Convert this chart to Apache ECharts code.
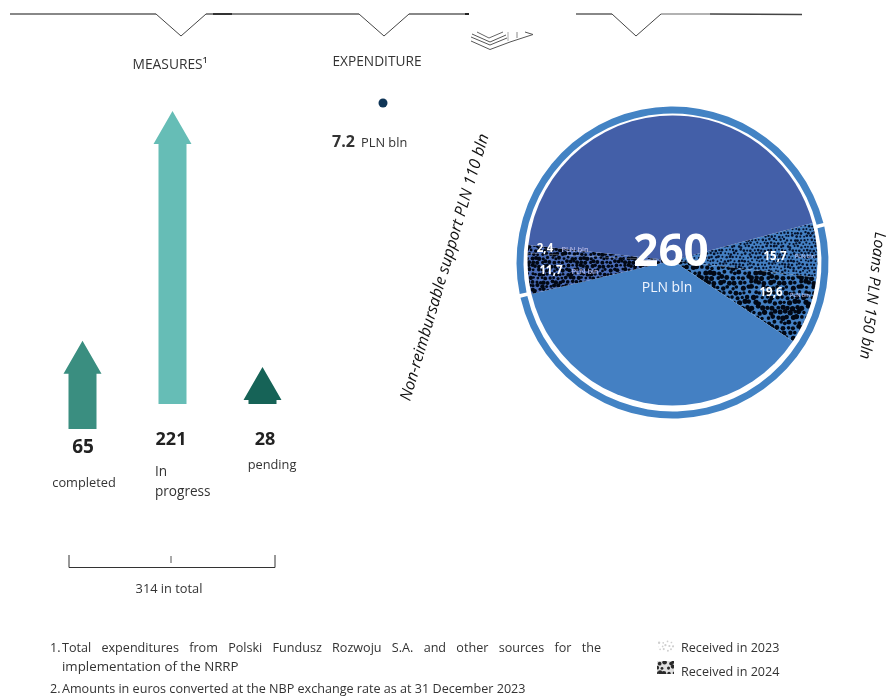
<!DOCTYPE html>
<html><head><meta charset="utf-8">
<style>html,body{margin:0;padding:0;background:#fff}#c{width:892px;height:697px}</style>
<script src="https://cdn.jsdelivr.net/npm/echarts@6/dist/echarts.min.js"></script>
</head><body><div id="c"></div>
<script>
// ---- data ----
const measureCategories = ['completed', 'In\nprogress', 'pending'];
const measureValues = [65, 221, 28];
const measureTotalLabel = '314 in total';
const expenditureValue = [7.2];
const pieNames = ['Loans received in 2023', 'Loans received in 2024', 'Loans remainder', 'Support received in 2024', 'Support received in 2023', 'Top remainder'];
const pieValues = [15.7, 19.6, 95.9, 11.7, 2.4, 114.7];
const ringValues = [131.2, 128.8];
const totalLabel = '260';
const wedgeLabels = ['2,4', '11,7', '15,7', '19,6'];
const unit = 'PLN bln';
const footnote1 = 'Total expenditures from Polski Fundusz Rozwoju S.A. and other sources for the';
const footnote1b = 'implementation of the NRRP';
const footnote2 = 'Amounts in euros converted at the NBP exchange rate as at 31 December 2023';
const legendNames = ['Received in 2023', 'Received in 2024'];

// ---- styling ----
const FONT = '"Open Sans", "Noto Sans", sans-serif';
const TXT = '#333333';
const arrowColors = ['#3A8E80', '#66BDB6', '#166357'];
const arrowDrop = [25, 0, 0];

function tile(size, step, rMin, rMax, base, ink) {
  const cv = document.createElement('canvas');
  cv.width = cv.height = size;
  const g = cv.getContext('2d');
  if (base) { g.fillStyle = base; g.fillRect(0, 0, size, size); }
  g.fillStyle = ink;
  const h = (a, b) => { const s = Math.sin(a * 12.9898 + b * 78.233) * 43758.5453; return s - Math.floor(s); };
  const n = Math.round(size / step);
  for (let i = 0; i < n; i++) for (let j = 0; j < n; j++) {
    const x = (i + (j % 2) * 0.5) * step + (h(i, j) - 0.5) * step * 0.5;
    const y = (j + 0.5) * step + (h(j + 7, i + 3) - 0.5) * step * 0.5;
    const r = rMin + (rMax - rMin) * h(i + 11, j + 5);
    for (const dx of [-size, 0, size]) for (const dy of [-size, 0, size]) {
      g.beginPath(); g.arc(x + dx, y + dy, r, 0, 6.2832); g.fill();
    }
  }
  return { image: cv, repeat: 'repeat' };
}
const BLUE = '#4480C3', DARK = '#435FA8';
const pal = [
  tile(49, 3.5, 0.9, 1.4, BLUE, '#06122c'),
  tile(50, 5, 1.6, 2.7, BLUE, '#020814'),
  BLUE,
  tile(48, 4, 1.3, 2.2, '#4B6DB8', '#020814'),
  tile(48, 4, 1.3, 2.2, '#4B6DB8', '#020814'),
  DARK
];

function justified(words, x0, x1, y) {
  const m = document.createElement('canvas').getContext('2d');
  const f = '12.6px ' + FONT;
  m.font = f;
  const w = words.map(s => m.measureText(s).width);
  const gap = (x1 - x0 - w.reduce((a, b) => a + b, 0)) / (words.length - 1);
  let x = x0;
  return words.map((s, i) => {
    const e = text(s, x, y, { font: f });
    x += w[i] + gap;
    return e;
  });
}
function text(s, x, y, o) {
  o = o || {};
  return {
    type: 'text', x, y: y + 2.5, z: 50, rotation: o.rot ? o.rot * Math.PI / 180 : 0,
    style: {
      text: s, fill: o.fill || TXT, font: o.font || ('12.8px ' + FONT),
      textAlign: o.align || 'left', textVerticalAlign: 'middle'
    }
  };
}
function poly(points, color, w) {
  return { type: 'polyline', z: 40, shape: { points }, style: { stroke: color || '#555', lineWidth: w || 1, fill: null } };
}

const graphics = [
  poly([[10, 14], [156, 14]], '#888', 2),
  poly([[156, 14], [181, 36], [206, 14]], '#444', 1),
  poly([[206, 14], [213, 14]], '#888', 2),
  poly([[213, 14], [232, 14]], '#333', 2),
  poly([[232, 14], [359, 14]], '#888', 2),
  poly([[359, 14], [384, 36], [409, 14]], '#444', 1),
  poly([[409, 14], [467, 14]], '#888', 2),
  poly([[465, 14], [469, 14]], '#222', 2),
  poly([[576, 14], [612, 14]], '#888', 2),
  poly([[612, 14], [636, 36], [661, 14]], '#444', 1),
  poly([[661, 14], [710, 14]], '#999', 1.5),
  poly([[710, 14], [802, 14.5]], '#444', 1.3),
  poly([[477, 32], [489, 38], [503, 32]], '#666', 1),
  poly([[472, 34], [490, 42], [506, 35]], '#555', 1),
  poly([[471, 37], [490, 45], [507, 38]], '#555', 1),
  poly([[471, 41], [490, 49.5], [510, 42], [533, 34.5], [525, 32]], '#555', 1),
  poly([[517, 38], [517, 32]], '#888', 1),
  poly([[508, 32], [508, 41]], '#aaa', 1),

  text('MEASURES¹', 170, 63, { align: 'center', font: '13.8px ' + FONT }),
  text('EXPENDITURE', 377, 60, { align: 'center', font: '13.7px ' + FONT }),
  text(expenditureValue[0].toFixed(1), 332, 140, { font: 'bold 16px ' + FONT }),
  text(unit, 361, 141, { font: '12.8px ' + FONT }),

  text(String(measureValues[0]), 83, 445, { align: 'center', font: 'bold 19px ' + FONT, fill: '#222' }),
  text(String(measureValues[1]), 171, 437, { align: 'center', font: 'bold 18px ' + FONT, fill: '#222' }),
  text(String(measureValues[2]), 265, 437, { align: 'center', font: 'bold 18px ' + FONT, fill: '#222' }),
  text(measureCategories[0], 84, 481, { align: 'center' }),
  text(measureCategories[1].split('\n')[0], 155, 470, { font: '13.6px ' + FONT }),
  text(measureCategories[1].split('\n')[1], 155, 490, { font: '13.6px ' + FONT }),
  text(measureCategories[2], 272, 463, { align: 'center' }),

  poly([[69, 555], [69, 567.5], [275, 567.5], [275, 555]], '#333', 1),
  poly([[171, 556], [171, 563]], '#555', 1),
  text(measureTotalLabel, 169, 587, { align: 'center', font: '12.8px ' + FONT }),

  text('Non-reimbursable support PLN 110 bln', 445, 265, { align: 'center', rot: 73.5, font: 'italic 16px ' + FONT, fill: '#111' }),
  text('Loans PLN 150 bln', 872, 293, { align: 'center', rot: -97, font: 'italic 15.6px ' + FONT, fill: '#111' }),

  text(totalLabel, 671, 251, { align: 'center', font: 'bold 44px ' + FONT, fill: '#fff' }),
  text(unit, 667, 286, { align: 'center', font: '14px ' + FONT, fill: '#f2f6ff' }),
  text(wedgeLabels[0], 545, 246, { align: 'center', font: 'bold 11.5px ' + FONT, fill: '#fff' }),
  text(unit, 575, 247, { align: 'center', font: '7.5px ' + FONT, fill: '#c9c6ee' }),
  text(wedgeLabels[1], 551, 268, { align: 'center', font: 'bold 11.5px ' + FONT, fill: '#fff' }),
  text(unit, 585, 269, { align: 'center', font: '7.5px ' + FONT, fill: '#c9c6ee' }),
  text(wedgeLabels[2], 775, 254, { align: 'center', font: 'bold 11.5px ' + FONT, fill: '#fff' }),
  text(unit, 805, 254, { align: 'center', font: '5.5px ' + FONT, fill: '#c9c6ee' }),
  text(wedgeLabels[3], 771, 290, { align: 'center', font: 'bold 11.5px ' + FONT, fill: '#fff' }),
  text(unit, 800, 293, { align: 'center', font: '5.5px ' + FONT, fill: '#c9c6ee' }),

  text('1.', 50, 646, { font: '12.6px ' + FONT }),
  ...justified(footnote1.split(' '), 62, 601, 646),
  text(footnote1b, 62, 665, { font: '13.3px ' + FONT }),
  text('2.', 50, 687, { font: '12.6px ' + FONT }),
  text(footnote2, 62, 687, { font: '12.6px ' + FONT }),

  { type: 'rect', z: 40, shape: { x: 658, y: 640, width: 16, height: 12 }, style: { fill: tile(24, 4, 0.7, 1.2, '#fff', '#cfcfcf') } },
  { type: 'rect', z: 40, shape: { x: 657, y: 661, width: 17, height: 13 }, style: { fill: tile(25, 5, 1.3, 2.4, '#e0e0e0', '#2a2a2a') } },
  text(legendNames[0], 681, 646, { font: '12.6px ' + FONT }),
  text(legendNames[1], 681, 670, { font: '12.6px ' + FONT })
];

const chart = echarts.init(document.getElementById('c'), null, { renderer: 'canvas' });
chart.setOption({
  animation: false,
  grid: [
    { left: 37.5, width: 270, top: 111, height: 293, show: false },
    { left: 378, width: 10, top: 98, height: 10, show: false }
  ],
  xAxis: [
    { type: 'category', gridIndex: 0, data: measureCategories, show: false },
    { type: 'category', gridIndex: 1, data: ['EXPENDITURE'], show: false }
  ],
  yAxis: [
    { type: 'value', gridIndex: 0, min: 0, max: 221, show: false },
    { type: 'value', gridIndex: 1, min: 0, max: 14.4, show: false }
  ],
  graphic: { elements: graphics },
  series: [
    {
      type: 'custom', xAxisIndex: 0, yAxisIndex: 0, clip: false, silent: true,
      data: measureValues.map((v, i) => [i, v]),
      renderItem(params, api) {
        const i = api.value(0);
        const top = api.coord([i, api.value(1)]);
        const base = api.coord([i, 0]);
        const d = arrowDrop[i];
        const x = top[0], t = top[1] + d - (d ? 2 : 0), b = base[1] + d;
        const hw = 19, sw = 14, hh = 33;
        return {
          type: 'polygon',
          shape: { points: [[x, t], [x + hw, t + hh], [x + sw, t + hh], [x + sw, b], [x - sw, b], [x - sw, t + hh], [x - hw, t + hh]] },
          style: { fill: arrowColors[i] }
        };
      }
    },
    {
      type: 'scatter', xAxisIndex: 1, yAxisIndex: 1, silent: true,
      symbolSize: 9, itemStyle: { color: '#0F3557', opacity: 1 },
      data: [['EXPENDITURE', expenditureValue[0]]]
    },
    {
      type: 'pie', silent: true, center: [672.5, 262.5], radius: [149, 156], startAngle: 14, padAngle: 1.4,
      label: { show: false }, labelLine: { show: false },
      itemStyle: { color: '#4383C4' },
      data: ringValues.map(v => ({ value: v }))
    },
    {
      type: 'pie', silent: true, center: [672.5, 260.5], radius: [0, 145], startAngle: 15, z: 3,
      label: { show: false }, labelLine: { show: false },
      data: pieValues.map((v, i) => ({ name: pieNames[i], value: v, itemStyle: { color: pal[i] } }))
    }
  ]
});
</script></body></html>
